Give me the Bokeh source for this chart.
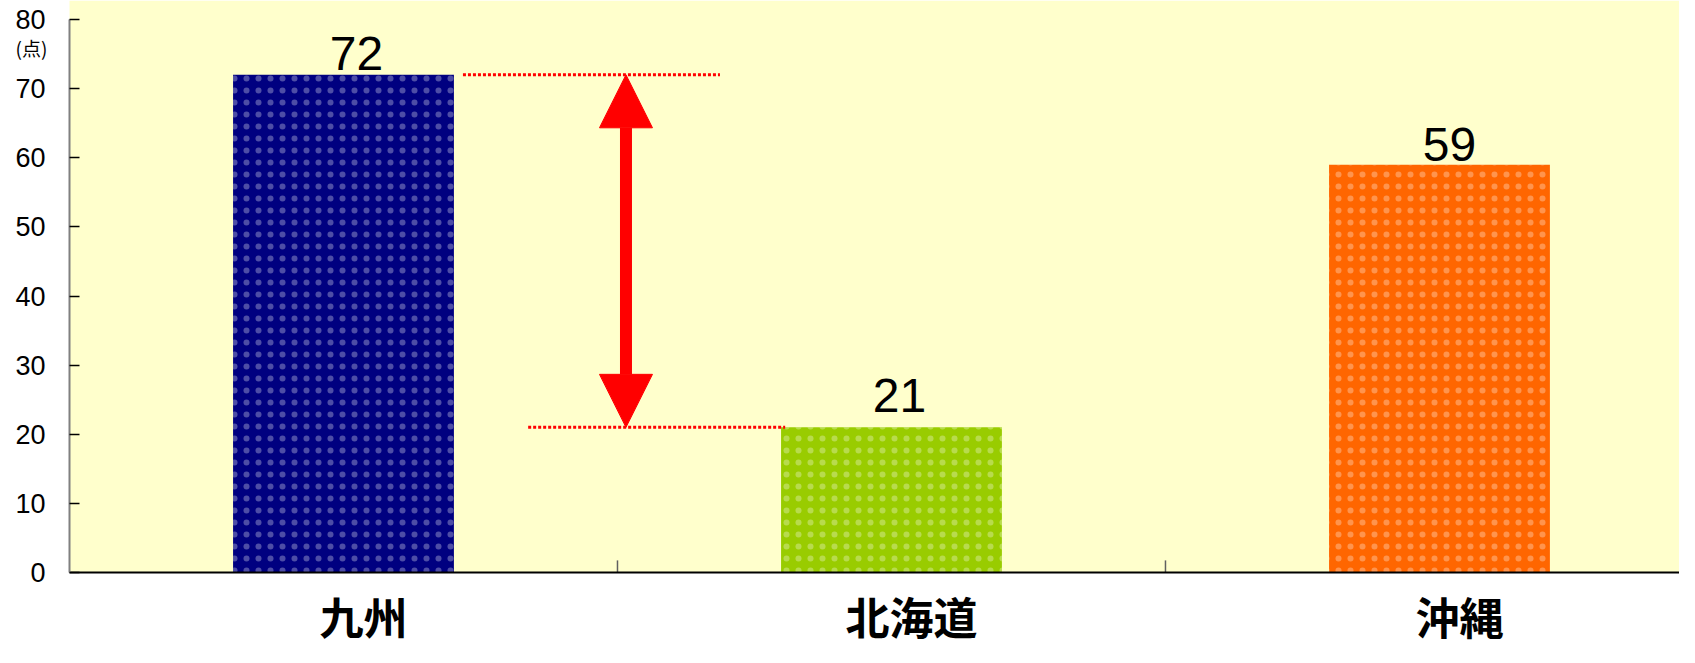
from bokeh.plotting import figure
from bokeh.models import (ColumnDataSource, FixedTicker, Range1d, Arrow,
                          NormalHead, BoxAnnotation)
from bokeh.core.properties import value
from bokeh.embed import file_html
from bokeh.resources import INLINE

# ---- data ----
categories = ["九州", "北海道", "沖縄"]
scores = [72, 21, 59]
score_labels = ["72", "21", "59"]
bar_colors = ["#000080", "#99cc00", "#ff6600"]
y_ticks = [0, 10, 20, 30, 40, 50, 60, 70, 80]
y_unit = "(点)"

positions = [i + 0.5 for i in range(len(categories))]
boundaries = list(range(1, len(categories)))
label_shift = 0.0365  # category labels sit slightly right of bar centre
label_positions = [x + label_shift for x in positions]
cat_label_y = -6.3     # below the zero line (outside the yellow plot area)

# the frame fills the whole canvas; the axes are drawn at fixed data locations
p = figure(width=1679, height=647, output_backend="svg", toolbar_location=None,
           x_range=Range1d(-0.1259, 2.938), y_range=Range1d(-10.85, 82.75),
           min_border_left=0, min_border_right=0, min_border_top=0,
           min_border_bottom=0)
p.background_fill_color = "white"
p.border_fill_color = "white"
p.outline_line_color = None
p.grid.visible = False

# yellow plot area
p.add_layout(BoxAnnotation(left=0, bottom=0, fill_color="#ffffcc", fill_alpha=1,
                           line_color=None, level="underlay"))

src = ColumnDataSource(dict(x=positions, top=scores, color=bar_colors,
                            label=score_labels,
                            dx=[13, 8, 10], dy=[-21, -32, -20]))

p.vbar(x="x", top="top", bottom=0, width=0.403, fill_color="color",
       line_color=None, hatch_pattern="dot", hatch_color="white",
       hatch_alpha=0.3, hatch_scale=12, hatch_weight=0.5, source=src)

p.text(x="x", y="top", text="label", x_offset="dx", y_offset="dy",
       text_align="center", text_baseline="alphabetic",
       text_font=value("Liberation Sans"), text_font_size="48px",
       text_color="black", source=src)

# category names below the zero line
p.text(x=label_positions, y=[cat_label_y] * len(categories), text=categories,
       text_align="center", text_baseline="middle",
       text_font=value("Noto Sans CJK JP"), text_font_style="bold",
       text_font_size="44px", text_color="black")

# unit label under the top tick label
p.text(x=[0], y=[y_ticks[-1] - 4], text=[y_unit], x_offset=-38,
       text_align="center", text_baseline="middle",
       text_font=value("Noto Sans CJK JP"), text_font_size="19px",
       text_color="black")

# category boundary tick marks (pointing up into the plot)
p.segment(x0=boundaries, y0=[0] * len(boundaries), x1=boundaries,
          y1=[1.75] * len(boundaries), line_color="#606060", line_width=1.5)

# difference annotation
p.segment(x0=[0.718, 0.837], y0=[scores[0], scores[1]],
          x1=[1.187, 1.306], y1=[scores[0], scores[1]],
          line_color="#ff0000", line_width=3, line_dash="3 2")
arrow_x = 1.0155
p.add_layout(Arrow(start=NormalHead(size=53, fill_color="#ff0000", line_color="#ff0000"),
                   end=NormalHead(size=53, fill_color="#ff0000", line_color="#ff0000"),
                   x_start=arrow_x, y_start=scores[1], x_end=arrow_x, y_end=scores[0],
                   line_color="#ff0000", line_width=12))

# y axis at x = 0
yax = p.yaxis[0]
yax.fixed_location = 0
yax.bounds = (y_ticks[0], y_ticks[-1])
yax.ticker = FixedTicker(ticks=y_ticks)
yax.major_tick_in = 10
yax.major_tick_out = 0
yax.minor_tick_line_color = None
yax.major_tick_line_color = "black"
yax.major_tick_line_width = 1.5
yax.axis_line_color = "#808080"
yax.axis_line_width = 2
yax.major_label_standoff = 24
yax.major_label_text_font = "Liberation Sans"
yax.major_label_text_font_size = "27px"
yax.major_label_text_color = "black"

# x axis line at y = 0
xax = p.xaxis[0]
xax.fixed_location = 0
xax.bounds = (0, 3)
xax.ticker = FixedTicker(ticks=[])
xax.major_tick_line_color = None
xax.minor_tick_line_color = None
xax.axis_line_color = "black"
xax.axis_line_width = 2

open("out.html", "w").write(file_html(p, INLINE))
